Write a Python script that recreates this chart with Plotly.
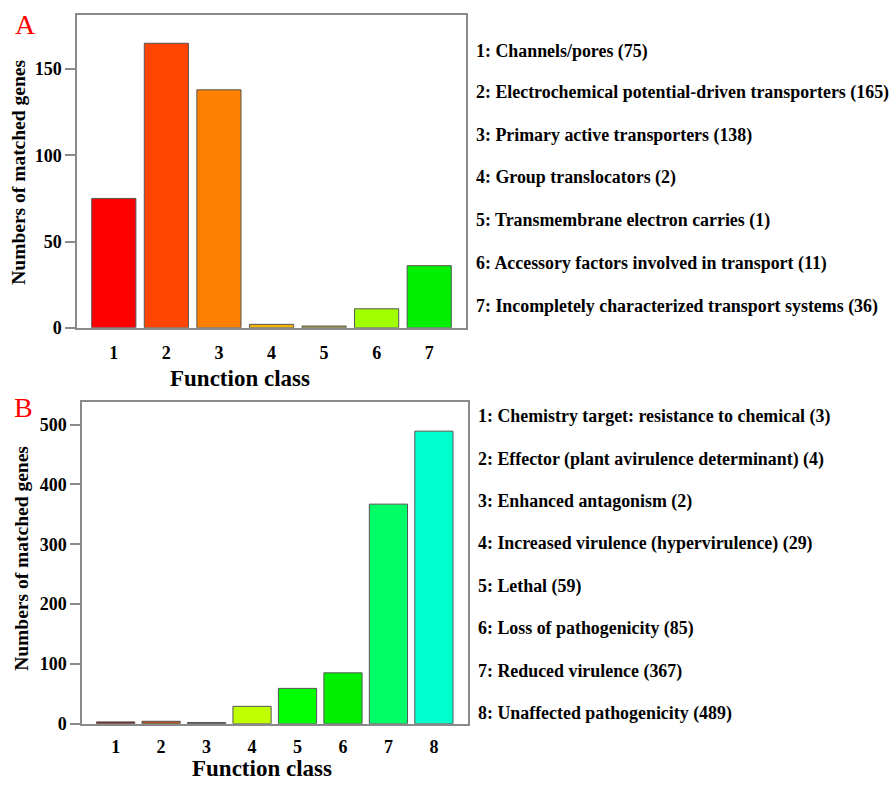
import plotly.graph_objects as go

# ---- data ----
classes_a = ["1", "2", "3", "4", "5", "6", "7"]
values_a = [75, 165, 138, 2, 1, 11, 36]
names_a = [
    "Channels/pores",
    "Electrochemical potential-driven transporters",
    "Primary active transporters",
    "Group translocators",
    "Transmembrane electron carries",
    "Accessory factors involved in transport",
    "Incompletely characterized transport systems",
]
colors_a = ["#FF0000", "#FF4500", "#FF8000", "#F2B400", "#B8B030", "#A2FF00", "#00F000"]

classes_b = ["1", "2", "3", "4", "5", "6", "7", "8"]
values_b = [3, 4, 2, 29, 59, 85, 367, 489]
names_b = [
    "Chemistry target: resistance to chemical",
    "Effector (plant avirulence determinant)",
    "Enhanced antagonism",
    "Increased virulence (hypervirulence)",
    "Lethal",
    "Loss of pathogenicity",
    "Reduced virulence",
    "Unaffected pathogenicity",
]
colors_b = ["#8B1A1A", "#B5501A", "#333333", "#C0FF00", "#00FF00", "#00F000", "#00FF66", "#00FFCC"]

W, H = 890, 787
FONT = "Liberation Serif"

def px_x(x):
    return x / W

def px_y(y):
    return 1 - y / H

fig = go.Figure()
fig.add_trace(go.Bar(x=[int(c) for c in classes_a], y=values_a, marker=dict(color=colors_a, line=dict(color="#555555", width=1)),
                     width=0.84, xaxis="x", yaxis="y", showlegend=False))
fig.add_trace(go.Bar(x=[int(c) for c in classes_b], y=values_b, marker=dict(color=colors_b, line=dict(color="#555555", width=1)),
                     width=0.84, xaxis="x2", yaxis="y2", showlegend=False))

axis_common = dict(showline=True, mirror=True, linecolor="#8a8a8a", linewidth=1.5, showgrid=False, zeroline=False,
                   tickfont=dict(family=FONT, size=18, color="black", weight="bold"))

fig.update_layout(
    width=W, height=H, autosize=False,
    margin=dict(l=0, r=0, t=0, b=0),
    paper_bgcolor="white", plot_bgcolor="white",
    xaxis=dict(domain=[px_x(77), px_x(466)], anchor="y", range=[0.3, 7.7],
               tickmode="array", tickvals=[int(c) for c in classes_a], ticktext=classes_a,
               ticks="", ticklabelstandoff=8, **axis_common),
    yaxis=dict(domain=[px_y(332), px_y(15)], anchor="x", range=[0, 181.5],
               tickvals=[0, 50, 100, 150], ticks="outside", ticklen=10, tickcolor="#8a8a8a", tickwidth=1.5,
               ticklabelstandoff=0, **axis_common),
    xaxis2=dict(domain=[px_x(82), px_x(468)], anchor="y2", range=[0.26, 8.75],
                tickmode="array", tickvals=[int(c) for c in classes_b], ticktext=classes_b,
                ticks="", ticklabelstandoff=6, **axis_common),
    yaxis2=dict(domain=[px_y(733), px_y(407)], anchor="x2", range=[0, 538],
                tickvals=[0, 100, 200, 300, 400, 500], ticks="outside", ticklen=10, tickcolor="#8a8a8a", tickwidth=1.5,
                ticklabelstandoff=0, **axis_common),
)

ann = []
def add_text(x, y, text, size, xanchor="left", color="black", bold=True, angle=0):
    ann.append(dict(x=px_x(x), y=px_y(y), xref="paper", yref="paper", text=text, showarrow=False,
                    xanchor=xanchor, yanchor="middle", textangle=angle,
                    font=dict(family=FONT, size=size, color=color, weight="bold" if bold else "normal")))

# panel letters
add_text(25, 25, "A", 28, xanchor="center", color="#FF0000", bold=False)
add_text(23, 413, "B", 28, xanchor="center", color="#FF0000", bold=False)

# axis titles
add_text(240, 383, "Function class", 23, xanchor="center")
add_text(262, 778, "Function class", 23, xanchor="center")
add_text(19, 175, "Numbers of matched genes", 19.5, xanchor="center", angle=-90)
add_text(22, 566, "Numbers of matched genes", 19.5, xanchor="center", angle=-90)

# legend-like descriptions
ya = [52, 94, 137, 180, 223, 267, 310]
for i, (c, n, v) in enumerate(zip(classes_a, names_a, values_a)):
    add_text(474, ya[i], f"{c}: {n} ({v})", 17.9)
yb = [422, 465, 508, 551, 594, 637, 680, 723]
for i, (c, n, v) in enumerate(zip(classes_b, names_b, values_b)):
    add_text(476, yb[i], f"{c}: {n} ({v})", 17.9)

fig.update_layout(annotations=ann)
fig.write_html("out.html", config={"displayModeBar": False},
               post_script="document.body.style.margin='0';")
